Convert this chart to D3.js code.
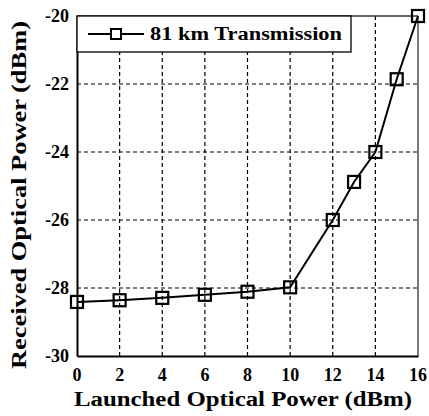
<!DOCTYPE html>
<html>
<head>
<meta charset="utf-8">
<script src="https://cdn.jsdelivr.net/npm/d3@7"></script>
<style>
  html, body { margin: 0; padding: 0; background: #fff; }
</style>
</head>
<body>
<svg id="s" width="429" height="416"></svg>
<script>
// Launched power (dBm) and received power after 81 km (dBm)
const launched = [0, 2, 4, 6, 8, 10, 12, 13, 14, 15, 16];
const received = [-28.41, -28.36, -28.29, -28.2, -28.11, -27.98, -26.0, -24.88, -24.0, -21.86, -20.0];
const xTicks = [0, 2, 4, 6, 8, 10, 12, 14, 16];
const yTicks = [-30, -28, -26, -24, -22, -20];
const seriesName = "81 km Transmission";

const svg = d3.select("#s");
const plotL = 77, plotR = 418, plotT = 16, plotB = 356;

const x = d3.scaleLinear().domain([0, 16]).range([plotL, plotR]);
const y = d3.scaleLinear().domain([-30, -20]).range([plotB, plotT]);

function label(parent, size) {
  return parent.append("text")
    .style("font-family", '"Liberation Serif"').style("font-weight", "bold")
    .style("font-size", size + "px");
}

// dashed grid
const grid = svg.append("g").attr("stroke", "#000").attr("stroke-width", 1.2)
  .attr("stroke-dasharray", "4,3");
grid.selectAll(".gx").data(xTicks.slice(1, -1)).join("line")
  .attr("x1", d => x(d)).attr("x2", d => x(d))
  .attr("y1", plotT).attr("y2", plotB);
grid.selectAll(".gy").data(yTicks.slice(1, -1)).join("line")
  .attr("x1", plotL).attr("x2", plotR)
  .attr("y1", d => y(d)).attr("y2", d => y(d));

// frame: top and right thin, left and bottom heavier
svg.append("line").attr("x1", plotL).attr("x2", plotR).attr("y1", plotT).attr("y2", plotT)
  .attr("stroke", "#333").attr("stroke-width", 1.3);
svg.append("line").attr("x1", plotR).attr("x2", plotR).attr("y1", plotT).attr("y2", plotB)
  .attr("stroke", "#333").attr("stroke-width", 1.3);

// axis lines from d3 axes, tick labels set as serif text
const xAxis = svg.append("g").attr("transform", `translate(0,${plotB})`)
  .call(d3.axisBottom(x).tickValues(xTicks).tickSize(0).tickFormat(""));
const yAxis = svg.append("g").attr("transform", `translate(${plotL},0)`)
  .call(d3.axisLeft(y).tickValues(yTicks).tickSize(0).tickFormat(""));
[xAxis, yAxis].forEach(a => a.select(".domain").attr("stroke", "#000").attr("stroke-width", 2));

xTicks.forEach(v => {
  label(svg, 18).attr("x", x(v)).attr("y", plotB + 25).attr("text-anchor", "middle").text(String(v));
});
yTicks.forEach(v => {
  label(svg, 18).attr("x", plotL - 8).attr("y", y(v) + 6).attr("text-anchor", "end").text(String(v));
});

// legend box
const legend = svg.append("g");
legend.append("rect").attr("x", plotL).attr("y", plotT).attr("width", 274).attr("height", 36)
  .attr("fill", "#fff").attr("stroke", "#000").attr("stroke-width", 1.3);
legend.append("line").attr("x1", 88).attr("x2", 144).attr("y1", 34).attr("y2", 34)
  .attr("stroke", "#000").attr("stroke-width", 2.2);
legend.append("rect").attr("x", 111).attr("y", 29).attr("width", 10).attr("height", 10)
  .attr("fill", "#fff").attr("stroke", "#000").attr("stroke-width", 2);
label(legend, 18).attr("x", 150).attr("y", 40)
  .attr("textLength", 192).attr("lengthAdjust", "spacingAndGlyphs").text(seriesName);

// series line and square markers
const pts = launched.map((v, i) => [v, received[i]]);
svg.append("path").datum(pts)
  .attr("fill", "none").attr("stroke", "#000").attr("stroke-width", 2)
  .attr("d", d3.line().x(d => x(d[0])).y(d => y(d[1])));
svg.selectAll(".mk").data(pts).join("rect")
  .attr("x", d => x(d[0]) - 6).attr("y", d => y(d[1]) - 6)
  .attr("width", 12).attr("height", 12)
  .attr("fill", "none").attr("stroke", "#000").attr("stroke-width", 2.2);

// axis titles
label(svg, 20).attr("x", 243).attr("y", 406).attr("text-anchor", "middle")
  .attr("textLength", 338).attr("lengthAdjust", "spacingAndGlyphs")
  .text("Launched Optical Power (dBm)");
label(svg, 20).attr("transform", "translate(26,195) rotate(-90)")
  .attr("text-anchor", "middle")
  .attr("textLength", 348).attr("lengthAdjust", "spacingAndGlyphs")
  .text("Received Optical Power (dBm)");
</script>
</body>
</html>
